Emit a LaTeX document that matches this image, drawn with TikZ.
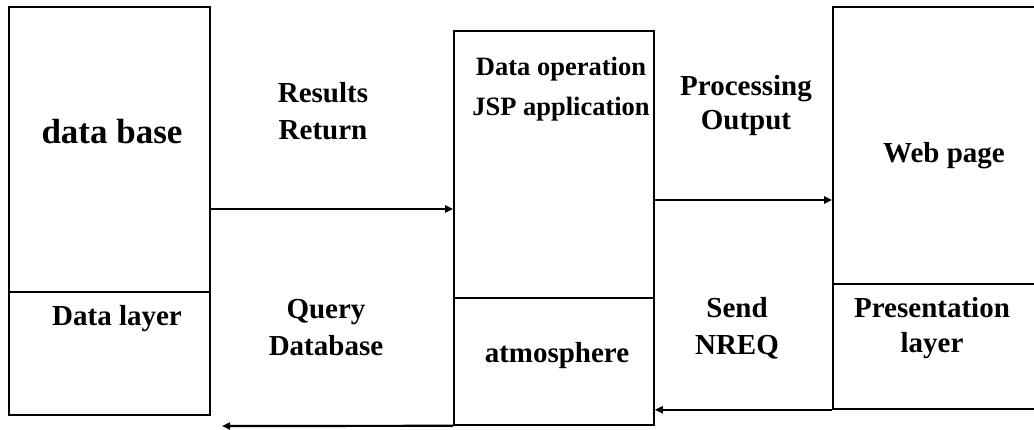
\documentclass[tikz,border=0pt]{standalone}
\usepackage{fontspec}
\setmainfont{Liberation Serif}
\usetikzlibrary{arrows.meta}
\tikzset{
  layer/.style={draw, line width=1.6pt, inner sep=0pt},
  split/.style={line width=2.2pt},
  flow/.style={line width=2.2pt, -{Triangle[length=8pt,width=7pt]}},
  txt/.style={font=\bfseries\fontsize{29}{36}\selectfont, align=center, anchor=base, inner sep=0pt},
}
\begin{document}
\begin{tikzpicture}[x=1pt,y=-1pt]
        \useasboundingbox (0,0) rectangle (1034,429);
        % Layer boxes
        \node[layer, minimum width=201pt, minimum height=408pt] (db) at (109.5,211) {};
        \node[layer, minimum width=200pt, minimum height=394pt] (jsp) at (554,228) {};
        \node[layer, minimum width=204pt, minimum height=402pt] (web) at (935,208) {};
        \foreach \b/\y in {db/292, jsp/298, web/284} {
            \draw[split] (\b.west |- 0,\y) -- (\b.east |- 0,\y);
        }
        % Box texts (base = last line)
        \node[txt, font=\bfseries\fontsize{35}{40}\selectfont] (dbname) at (112,143) {data base};
        \node[txt] (dblayer) at (117,325) {Data layer};
        \node[txt, font=\bfseries\fontsize{26.5}{40}\selectfont] (jspname) at (561,115) {Data operation\\JSP application};
        \node[txt] (jspenv) at (557,362) {atmosphere};
        \node[txt] (webname) at (944,162) {Web page};
        \node[txt, font=\bfseries\fontsize{29}{35}\selectfont] (weblayer) at (932,352) {Presentation\\layer};
        % Arrow labels
        \node[txt, font=\bfseries\fontsize{29}{37}\selectfont] (results) at (323,139) {Results\\Return};
        \node[txt, font=\bfseries\fontsize{29}{37}\selectfont] (query) at (326,355) {Query\\Database};
        \node[txt, font=\bfseries\fontsize{29}{34}\selectfont] (output) at (746,129) {Processing\\Output};
        \node[txt, font=\bfseries\fontsize{29}{37}\selectfont] (send) at (737,354) {Send\\NREQ};
        % Arrows
        \coordinate (qend) at (222,426);
        \draw[flow] (db.east |- 0,209) -- (jsp.west |- 0,209);
        \draw[flow] (jsp.east |- 0,200) -- (web.west |- 0,200);
        \draw[flow] (web.south west) -- (jsp.east |- web.south west);
        \draw[flow] (jsp.south west) -- (qend);
    \end{tikzpicture}
\end{document}
